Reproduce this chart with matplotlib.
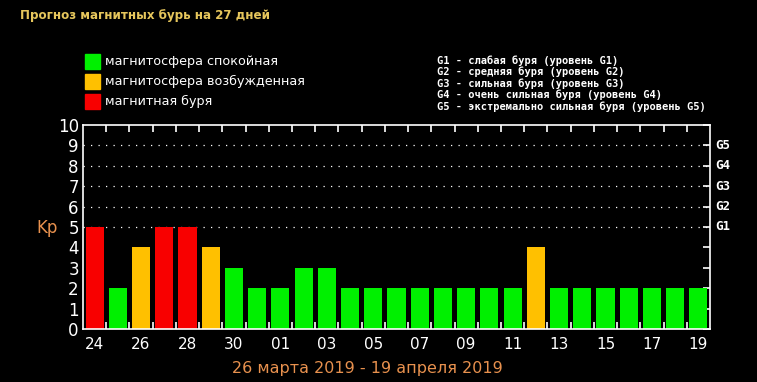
import matplotlib
matplotlib.use("Agg")
import matplotlib.pyplot as plt
from matplotlib.transforms import blended_transform_factory
import numpy as np

# ---- data ----
days = ["24", "25", "26", "27", "28", "29", "30", "31",
        "01", "02", "03", "04", "05", "06", "07", "08", "09", "10",
        "11", "12", "13", "14", "15", "16", "17", "18", "19"]
kp = [5, 2, 4, 5, 5, 4, 3, 2,
      2, 3, 3, 2, 2, 2, 2, 2, 2, 2,
      2, 4, 2, 2, 2, 2, 2, 2, 2]
y_ticks = list(range(0, 11))
g_levels = [5, 6, 7, 8, 9]
g_labels = ["G1", "G2", "G3", "G4", "G5"]
legend_labels = ["магнитосфера спокойная", "магнитосфера возбужденная", "магнитная буря"]
g_legend = ["G1 - слабая буря (уровень G1)",
            "G2 - средняя буря (уровень G2)",
            "G3 - сильная буря (уровень G3)",
            "G4 - очень сильная буря (уровень G4)",
            "G5 - экстремально сильная буря (уровень G5)"]
title = "Прогноз магнитных бурь на 27 дней"
date_range = "26 марта 2019 - 19 апреля 2019"

GREEN = "#00F000"
ORANGE = "#FFC000"
RED = "#F80000"
ORANGE_TXT = "#E8914E"
TITLE_C = "#E6C65C"


def color_for(v):
    if v >= 5:
        return RED
    if v == 4:
        return ORANGE
    return GREEN


fig = plt.figure(figsize=(7.57, 3.82), dpi=100, facecolor="black")
ax = fig.add_axes([83 / 757, 1 - 329 / 382, (710 - 83) / 757, (329 - 125) / 382])
ax.set_facecolor("black")

x = np.arange(len(kp))
ax.bar(x, kp, width=0.78, color=[color_for(v) for v in kp], zorder=2)

ax.set_xlim(-0.5, len(kp) - 0.5)
ax.set_ylim(0, 10)

# dotted grid at G levels
ax.hlines(g_levels, -0.5, len(kp) - 0.5, colors="white", linewidth=0.9,
          linestyles=(0, (1, 5)), zorder=1)

for s in ax.spines.values():
    s.set_color("white")
    s.set_linewidth(1.2)

# x ticks
ax.set_xticks(x[::2])
ax.set_xticklabels(days[::2])
ax.set_xticks(np.arange(0.5, len(kp) - 1, 1.0), minor=True)
ax.tick_params(axis="x", which="major", length=0, colors="white", labelsize=11, pad=6)
ax.tick_params(axis="x", which="minor", direction="in", length=5, width=1.2,
               color="white", top=True, bottom=True)

# y ticks
ax.set_yticks(y_ticks)
ax.tick_params(axis="y", which="major", left=False, right=True, direction="in",
               length=5, width=1.2, color="white", labelcolor="white",
               labelsize=12, pad=3)

trans = blended_transform_factory(ax.transAxes, ax.transData)
for lvl, lab in zip(g_levels, g_labels):
    ax.text(1.009, lvl, lab, transform=trans, color="white", fontsize=9,
            fontweight="bold", family="DejaVu Sans Mono", va="center", ha="left")

fig.text(47 / 757, 1 - 228 / 382, "Kp", color=ORANGE_TXT, fontsize=12,
         ha="center", va="center")

fig.text(367 / 757, 1 - 368 / 382, date_range, color=ORANGE_TXT, fontsize=11.5,
         ha="center", va="center")

fig.text(20 / 757, 1 - 15 / 382, title, color=TITLE_C, fontsize=8.6,
         fontweight="bold", ha="left", va="center")

# legend squares
leg_colors = [GREEN, ORANGE, RED]
leg_y = [61, 81, 101]
for c, yy, lab in zip(leg_colors, leg_y, legend_labels):
    fig.patches.append(plt.Rectangle((85 / 757, 1 - (yy + 7.5) / 382), 15 / 757, 15 / 382,
                                     transform=fig.transFigure, color=c, figure=fig))
    fig.text(105 / 757, 1 - yy / 382, lab, color="white", fontsize=9.2,
             ha="left", va="center")

g_y = [60.5, 72, 83.5, 95, 106.5]
for yy, lab in zip(g_y, g_legend):
    fig.text(437 / 757, 1 - yy / 382, lab, color="white", fontsize=7.5,
             fontweight="bold", family="DejaVu Sans Mono", ha="left", va="center")

fig.savefig("out.png", dpi=100, facecolor="black")
